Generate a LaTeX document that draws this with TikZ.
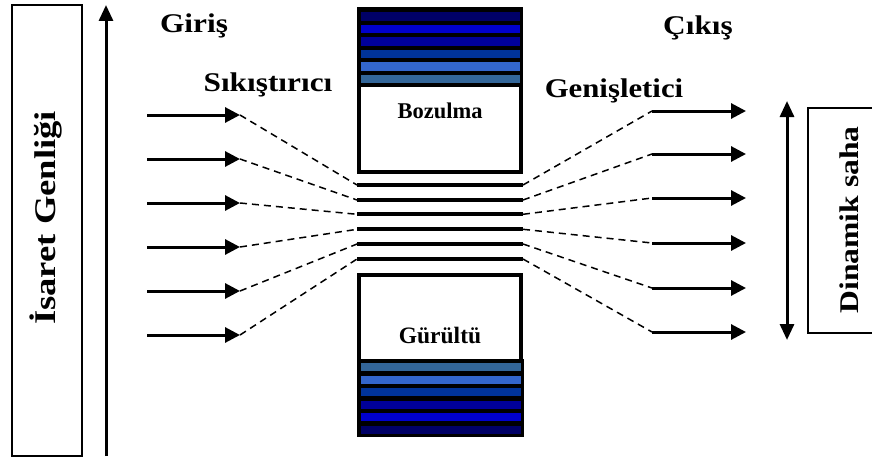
\documentclass[tikz,border=0pt]{standalone}
\usepackage{fontspec}
\setmainfont{Liberation Serif}
\usetikzlibrary{arrows.meta}

\definecolor{bandA}{RGB}{0,0,102}
\definecolor{bandB}{RGB}{0,0,204}
\definecolor{bandC}{RGB}{0,0,153}
\definecolor{bandD}{RGB}{0,51,153}
\definecolor{bandE}{RGB}{51,102,204}
\definecolor{bandF}{RGB}{51,102,153}

% horizontally stretched bold label
\newcommand\widetxt[3]{\fontsize{#1}{#1}\selectfont\bfseries\scalebox{#2}[1]{#3}}

\begin{document}
\begin{tikzpicture}[x=1pt,y=-1pt,
  sigarrow/.style={line width=3pt,-{Triangle[length=15pt,width=15pt]}},
  bigarrow/.style={line width=3pt,-{Triangle[length=16pt,width=14pt]}},
  dblarrow/.style={line width=3pt,{Triangle[length=16pt,width=14pt]}-{Triangle[length=16pt,width=14pt]}},
  dashlink/.style={line width=1.5pt,dash pattern=on 7pt off 5pt},
  level/.style={line width=4pt},
  framebox/.style={draw,line width=1.4pt},
  label/.style={inner sep=0pt,anchor=base}]
\useasboundingbox (0,0) rectangle (872,460);

% amplitude axis and its frame
\draw[framebox] (12,5) rectangle (82,456);
\node[rotate=90] (amp) at (46,218) {\widetxt{30}{1.22}{İsaret Genliği}};
\coordinate (axbot) at (106,456);
\coordinate (axtop) at (106,5);
\draw[bigarrow] (axbot) -- (axtop);

% headings
\node[label] (giris) at (194,33) {\widetxt{27}{1.16}{Giriş}};
\node[label] (cikis) at (698,35) {\widetxt{27}{1.16}{Çıkış}};
\node[label] (sik) at (268,92) {\widetxt{27}{1.16}{Sıkıştırıcı}};
\node[label] (gen) at (614,97) {\widetxt{27}{1.14}{Genişletici}};

% upper band stack and distortion box
\fill[black] (357,7) rectangle (523,87);
\foreach \c [count=\j from 0] in {bandA,bandB,bandC,bandD,bandE,bandF}
  \fill[\c] (361,{12.5+12.4*\j}) rectangle (519.5,{20.9+12.4*\j});
\draw[line width=4pt,fill=white] (359,85) rectangle (521,172);
\node[label] (boz) at (440,118) {\widetxt{22.5}{1}{Bozulma}};

% lower noise box and band stack
\fill[black] (357,359) rectangle (524,437);
\foreach \c [count=\j from 0] in {bandF,bandE,bandD,bandC,bandB,bandA}
  \fill[\c] (361,{363+12.5*\j}) rectangle (520.5,{371.3+12.5*\j});
\draw[line width=4pt,fill=white] (359,275) rectangle (521,361);
\node[label] (gur) at (440,343) {\widetxt{23.5}{1}{Gürültü}};

% compressed levels in the channel
\foreach \y [count=\i] in {185,200,214.3,229.3,244,259} {
  \coordinate (L\i) at (357,\y);
  \coordinate (R\i) at (523,\y);
  \draw[level] (L\i) -- (R\i);
}

% input levels
\foreach \y [count=\i] in {115,159,203,247,291,335} {
  \coordinate (inS\i) at (147,\y);
  \coordinate (inE\i) at (240,\y);
  \draw[sigarrow] (inS\i) -- (inE\i);
  \draw[dashlink] (inE\i) -- (L\i);
}

% output levels
\foreach \y [count=\i] in {111,154,198,243,288,332} {
  \coordinate (outS\i) at (652,\y);
  \coordinate (outE\i) at (746,\y);
  \draw[sigarrow] (outS\i) -- (outE\i);
  \draw[dashlink] (R\i) -- (outS\i);
}

% dynamic range
\coordinate (dyntop) at (787,101);
\coordinate (dynbot) at (787,340);
\draw[dblarrow] (dynbot) -- (dyntop);
\draw[framebox] (873,108) -- (808,108) -- (808,333) -- (873,333);
\node[rotate=90] (dyn) at (849,220) {\widetxt{27}{1.17}{Dinamik saha}};
\end{tikzpicture}
\end{document}
